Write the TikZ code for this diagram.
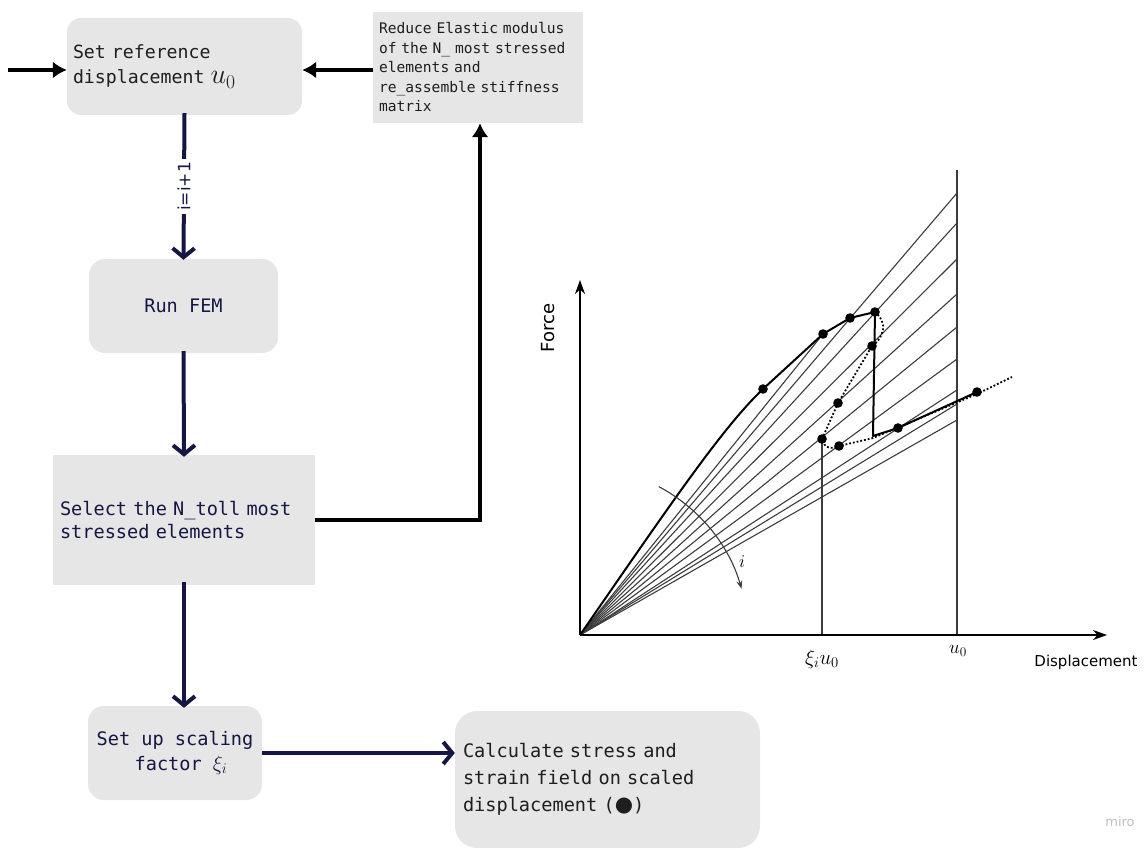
\documentclass[tikz,border=0pt]{standalone}
\usepackage{fix-cm}
\usepackage{fontspec}
\usetikzlibrary{arrows.meta}
\newfontfamily\dvmono[WordSpace={1,0,0}]{DejaVu Sans Mono}
\newfontfamily\dvsans{DejaVu Sans}
\definecolor{boxgray}{RGB}{230,230,230}
\definecolor{navy}{RGB}{22,22,68}
\definecolor{txtdark}{RGB}{30,30,30}
\definecolor{plotgray}{RGB}{60,60,60}
\begin{document}
\begin{tikzpicture}[x=1pt,y=-1pt,
  box/.style={fill=boxgray, draw=none, inner ysep=0pt},
  navyarrow/.style={draw=navy, line width=4pt, -{Straight Barb[length=9pt,width=22pt]}},
  blackarrow/.style={draw=black, line width=3.5pt, -{Latex[length=14pt,width=17pt]}},
  radial/.style={draw=plotgray, line width=1.1pt},
  thickpath/.style={draw=black, line width=2pt, line join=round},
  dotpath/.style={draw=black, line width=1.8pt, dotted},
  dot/.style={fill=black},
  axis/.style={draw=black, line width=1.8pt, -{Stealth[length=14pt,width=10pt]}},
  steplabel/.style={rotate=90, fill=white, text=navy, inner sep=3pt, font=\dvsans\fontsize{17}{20}\selectfont}
]
\useasboundingbox (0,0) rectangle (1145,850);

% ---------------- flowchart boxes ----------------
\node[box, rounded corners=14pt, minimum width=235pt, minimum height=97pt, text width=223pt,
      inner xsep=6pt, align=left, text=txtdark, font=\dvmono\fontsize{18.2}{25}\selectfont]
  (b1) at (184.5,66.5) {Set reference\\displacement~{\fontsize{28}{25}\selectfont$u_0$}};
\node[box, minimum width=210pt, minimum height=111pt, text width=198pt,
      inner xsep=6pt, align=left, text=txtdark, font=\dvmono\fontsize{14.6}{19.5}\selectfont]
  (b2) at (478,67.5) {Reduce Elastic modulus\\of the N\_ most stressed\\elements and\\re\_assemble stiffness\\matrix};
\node[box, rounded corners=16pt, minimum width=189pt, minimum height=94pt,
      align=center, text=navy, font=\dvmono\fontsize{18.6}{24}\selectfont]
  (b3) at (183.5,306) {Run FEM};
\node[box, minimum width=262pt, minimum height=130pt, text width=248pt,
      inner xsep=7pt, align=left, text=navy, font=\dvmono\fontsize{18.6}{23}\selectfont]
  (b4) at (184,520) {Select the N\_toll most\\stressed elements};
\node[box, rounded corners=16pt, minimum width=174pt, minimum height=94pt,
      align=center, text=navy, font=\dvmono\fontsize{18.6}{25}\selectfont]
  (b5) at (175,753) {Set up scaling\\\hspace*{12pt}factor {\fontsize{21}{25}\selectfont$\xi_i$}};
\node[box, rounded corners=22pt, minimum width=305pt, minimum height=137pt, text width=289pt,
      inner xsep=8pt, align=left, text=txtdark, font=\dvmono\fontsize{18.6}{27}\selectfont]
  (b6) at (607.5,779.5) {Calculate stress and\\strain field on scaled\\displacement ({\dvsans\fontsize{21}{27}\selectfont ●})};

% ---------------- flowchart connectors ----------------
\coordinate (entry) at (8,70);
\draw[blackarrow] (entry) -- (entry -| b1.west);
\draw[blackarrow] (b2.west |- entry) -- (entry -| b1.east);
\draw[blackarrow] (b4.east) -| ([xshift=2pt]b2.south);
\draw[navyarrow] ([yshift=2pt]b1.south) -- node[steplabel] (lbl) {i=i+1} ([yshift=-1pt]b3.north);
\draw[navyarrow] ([yshift=2pt]b3.south) -- ([yshift=-2pt]b4.north);
\draw[navyarrow] ([yshift=3pt]b4.south) -- ([yshift=-2pt]b4.south |- b5.north);
\draw[navyarrow] (b5.east) -- (b5.east -| b6.west);

% ---------------- plot ----------------
\coordinate (O) at (580,635);
\coordinate (xend) at (1107,635);
\coordinate (yend) at (580,280);
\coordinate (ut) at (957,170);
\coordinate (ub) at (957,635);
\coordinate (xt) at (822,439);
\coordinate (xb) at (822,635);

\foreach \yy in {193,223,259,294,327,359,390,404,420}
  \draw[radial] (O) -- (957,\yy);
\draw[radial] (O) -- (823,334);
\draw[radial] (ut) -- (ub);
\draw[radial] (xt) -- (xb);

% response path
\draw[thickpath] (O) .. controls (670,505) and (722,428) .. (763,389)
  -- (823,334) -- (850,318) -- (875,312) -- (873,436) -- (898,428) -- (977,392);
\draw[dotpath] (875,312) .. controls (888,322) and (884,338) .. (872,346)
  -- (838,403) -- (822,439) .. controls (824,449) and (832,449) .. (839,446)
  -- (873,438) -- (977,394) -- (1012,377);
\foreach \p in {(763,389),(823,334),(850,318),(875,312),(872,346),(838,403),(822,439),(839,446),(898,428),(977,392)}
  \fill[dot] \p circle (4.8pt);

% axes
\draw[axis] (O) -- (xend);
\draw[axis] (O) -- (yend);

% arc with i
\draw[draw=plotgray, line width=1.1pt, -{Stealth[length=8pt,width=6pt]}]
  (O) ++(-62:168) arc[start angle=-62, end angle=-16, radius=168];
\node[font=\fontsize{18}{20}\selectfont] (ilab) at (742,562) {$i$};

% labels
\node[rotate=90, font=\dvsans\fontsize{18}{21}\selectfont] (force) at (548,328) {Force};
\node[font=\dvsans\fontsize{15}{18}\selectfont] (disp) at (1086,662) {Displacement};
\node[font=\fontsize{21}{24}\selectfont] (xilab) at (822,659) {$\xi_i u_0$};
\node[font=\fontsize{19}{22}\selectfont] (u0lab) at (958,651) {$u_0$};

% watermark
\node[text=black!25, font=\dvsans\fontsize{13}{15}\selectfont] (miro) at (1120,822) {miro};
\end{tikzpicture}
\end{document}
